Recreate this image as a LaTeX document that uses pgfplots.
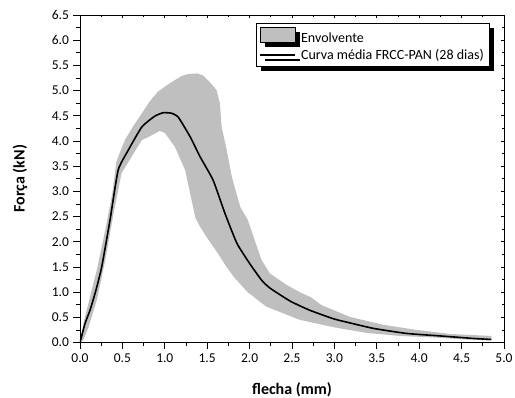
\documentclass[border=0pt]{standalone}
\usepackage{fontspec}
\setmainfont{Carlito}
\usepackage{pgfplots}
\pgfplotsset{compat=1.18}
\usetikzlibrary{shadows}
\begin{document}
\begin{tikzpicture}[x=1pt,y=1pt]
\path[use as bounding box] (-80,-55.5) rectangle (435,342.5);
\begin{axis}[
  at={(0,0)}, anchor=south west,
  scale only axis, width=424pt, height=327.5pt,
  xmin=0, xmax=5, ymin=0, ymax=6.5,
  xtick={0,0.5,...,5}, ytick={0,0.5,...,6.5},
  xticklabels={0.0,0.5,1.0,1.5,2.0,2.5,3.0,3.5,4.0,4.5,5.0},
  yticklabels={0.0,0.5,1.0,1.5,2.0,2.5,3.0,3.5,4.0,4.5,5.0,5.5,6.0,6.5},
  minor x tick num=1, minor y tick num=1,
  xtick pos=bottom, ytick pos=left,
  tick align=outside,
  major tick length=6.5pt, minor tick length=3.5pt,
  tick style={black, line width=0.7pt},
  axis line style={line width=0.8pt},
  every tick label/.append style={font=\fontsize{13.5}{15}\selectfont},
  xticklabel style={yshift=-1pt},
  yticklabel style={xshift=-1pt},
  xlabel={\textbf{flecha (mm)}}, ylabel={\textbf{Força (kN)}},
  label style={font=\fontsize{16}{18}\selectfont},
  xlabel style={at={(axis description cs:0.5,-0.145)}, anchor=center},
  ylabel style={at={(axis description cs:-0.1415,0.5)}, anchor=center},
  legend style={at={(0.966,0.976)}, anchor=north east, draw=black, line width=0.6pt, fill=white,
    font=\fontsize{14}{16}\selectfont, inner xsep=3.5pt, inner ysep=3.5pt, row sep=3pt,
    nodes={inner xsep=2pt, inner ysep=1.5pt},
    drop shadow={shadow xshift=5pt, shadow yshift=-5pt, fill=black, opacity=1}},
  legend cell align=left,
]
\addplot[fill=black!25, draw=none,
  legend image code/.code={\draw[fill=black!25, draw=black, line width=0.5pt] (0pt,-3.8pt) rectangle (35pt,11.2pt);
    \path (38pt,0pt);}]
coordinates {
(0,0) (0.05,0.45) (0.1,0.78) (0.2,1.45) (0.3,2.25) (0.38,2.95) (0.43,3.6) (0.53,4.02) (0.63,4.3) (0.73,4.55) (0.82,4.78) (0.92,4.98) (1.02,5.10) (1.12,5.21) (1.2,5.29) (1.28,5.33) (1.38,5.34) (1.45,5.30) (1.53,5.17) (1.61,5.01) (1.65,4.75) (1.67,4.28) (1.73,3.82) (1.79,3.29) (1.89,2.69) (1.98,2.43) (2.06,2.03) (2.14,1.64) (2.24,1.37) (2.44,1.14) (2.59,1.0) (2.72,0.90) (2.85,0.74) (3.18,0.51) (3.58,0.35) (3.97,0.25) (4.36,0.17) (4.85,0.13)
(4.85,0.04) (4.56,0.06) (4.17,0.10) (3.77,0.13) (3.38,0.19) (3.0,0.30) (2.59,0.45) (2.20,0.71) (2.12,0.81) (1.97,1.01) (1.81,1.31) (1.72,1.52) (1.63,1.76) (1.49,2.10) (1.415,2.30) (1.36,2.48) (1.30,2.95) (1.24,3.42) (1.12,3.88) (1.00,4.16) (0.94,4.20) (0.81,4.08) (0.73,4.02) (0.61,3.69) (0.49,3.36) (0.40,2.6) (0.3,1.65) (0.2,0.85) (0.1,0.3) (0.04,0.05) (0,0)
} \closedcycle;
\addlegendentry{Envolvente}
\addplot[black, line width=1.6pt, smooth, tension=0.3,
  legend image code/.code={\draw[black, line width=1.2pt] (0pt,0.5pt) -- (35pt,0.5pt); \path (38pt,0pt);}]
coordinates {
(0,0) (0.06,0.38) (0.12,0.65) (0.19,1.05) (0.256,1.5) (0.354,2.43) (0.45,3.42) (0.57,3.82) (0.73,4.28) (0.88,4.49) (0.98,4.56) (1.08,4.55) (1.16,4.47) (1.30,4.08) (1.415,3.69) (1.57,3.22) (1.71,2.56) (1.85,1.97) (2.00,1.57) (2.14,1.24) (2.24,1.08) (2.48,0.82) (2.71,0.64) (2.99,0.47) (3.18,0.39) (3.46,0.28) (3.85,0.18) (4.25,0.13) (4.64,0.08) (4.85,0.06)
};
\addlegendentry{Curva média FRCC-PAN (28 dias)}
\end{axis}
\begin{axis}[
  at={(0,0)}, anchor=south west,
  scale only axis, width=424pt, height=327.5pt,
  xmin=0, xmax=5, ymin=0, ymax=6.5,
  xtick={0,0.5,...,5}, ytick={0,0.5,...,6.5},
  minor x tick num=1, minor y tick num=1,
  xtick pos=top, ytick pos=right,
  tick align=inside,
  major tick length=3pt, minor tick length=2pt,
  tick style={black, line width=0.6pt},
  axis line style={line width=0.8pt},
  xticklabels={}, yticklabels={},
]
\end{axis}
\end{tikzpicture}
\end{document}
